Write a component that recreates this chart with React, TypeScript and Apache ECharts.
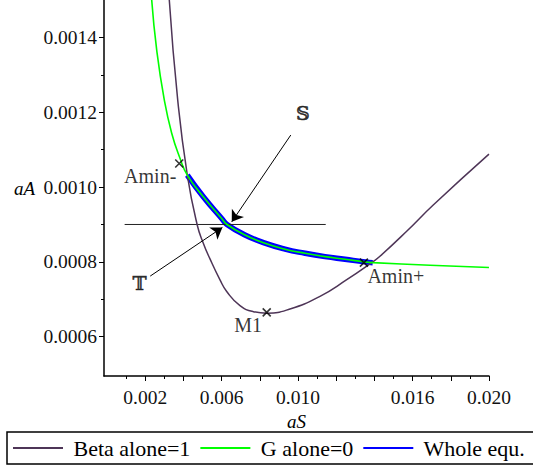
import React, { useEffect, useRef } from 'react';
import * as echarts from 'echarts';

// Beta alone = 1 curve (aS, aA)
const betaCurve: [number, number][] = [
  [0.003259, 0.0015],
  [0.003699, 0.001233],
  [0.004202, 0.001032],
  [0.004725, 0.000898],
  [0.00504, 0.00085],
  [0.00539, 0.000808],
  [0.005914, 0.000752],
  [0.006265, 0.000721],
  [0.006961, 0.000683],
  [0.007658, 0.000667],
  [0.008391, 0.000663],
  [0.009579, 0.000674],
  [0.01115, 0.000708],
  [0.012512, 0.000751],
  [0.01391, 0.0008],
  [0.01429, 0.000815],
  [0.01569, 0.000882],
  [0.01708, 0.000952],
  [0.019998, 0.001088],
];

// G alone = 0 curve
const gCurve: [number, number][] = [
  [0.002338, 0.0015],
  [0.0026, 0.001366],
  [0.002997, 0.001233],
  [0.003385, 0.001144],
  [0.003819, 0.001077],
  [0.004202, 0.001032],
  [0.005039, 0.000974],
  [0.006003, 0.000916],
  [0.006281, 0.0009],
  [0.007223, 0.000872],
  [0.00827, 0.00085],
  [0.009317, 0.000834],
  [0.010365, 0.000823],
  [0.011412, 0.000814],
  [0.012459, 0.000807],
  [0.013506, 0.0008],
  [0.01391, 0.000798],
  [0.01691, 0.000791],
  [0.019998, 0.000785],
];

// Whole equation curve
const wholeCurve: [number, number][] = [
  [0.004202, 0.001032],
  [0.005039, 0.000974],
  [0.006003, 0.000916],
  [0.006281, 0.0009],
  [0.007223, 0.000872],
  [0.00827, 0.00085],
  [0.009317, 0.000834],
  [0.010365, 0.000823],
  [0.011412, 0.000814],
  [0.012459, 0.000807],
  [0.013506, 0.0008],
  [0.01391, 0.000798],
];

// Cross markers
const markerPoints: [number, number][] = [
  [0.00378, 0.001063],
  [0.01345, 0.000798],
  [0.00836, 0.000665],
];

// Text annotations [aS, aA, text]
const annotations: [number, number, string][] = [
  [0.00226, 0.001029, 'Amin-'],
  [0.01512, 0.000762, 'Amin+'],
  [0.00739, 0.000631, 'M1'],
  [0.01025, 0.001197, '𝕊'],
  [0.0017, 0.000744, '𝕋'],
];

// Horizontal reference line
const refLine: [number, number][] = [
  [0.00092, 0.0009],
  [0.01145, 0.0009],
];

// Arrows [from, to]
const arrows: [number, number][][] = [
  [[0.00962, 0.001139], [0.00653, 0.000907]],
  [[0.00226, 0.000762], [0.00604, 0.000892]],
];

const xMajorTicks = [0.002, 0.004, 0.006, 0.008, 0.01, 0.012, 0.014, 0.016, 0.018, 0.02];
const xMinorTicks = [0.001, 0.003, 0.005, 0.007, 0.009, 0.011, 0.013, 0.015, 0.017, 0.019];
const xLabels = [0.002, 0.006, 0.01, 0.016, 0.02];
const yMajorTicks = [0.0006, 0.0008, 0.001, 0.0012, 0.0014];
const yMinorTicks = [0.0007, 0.0009, 0.0011, 0.0013];

const seriesNames = ['Beta alone=1', 'G alone=0', 'Whole equ.'];
const FONT = 'Liberation Serif';

export default function App() {
  const ref = useRef<HTMLDivElement>(null);
  useEffect(() => {
    if (!ref.current) return;
    const chart = echarts.init(ref.current, undefined, { renderer: 'svg' });
    const xMin = -0.00016;
    const xMax = 0.02;
    const yMin = 0.000495;
    const yMax = 0.0015;
    const axisCommon = {
      type: 'value' as const,
      splitLine: { show: false },
    };
    chart.setOption({
      animation: false,
      backgroundColor: '#fff',
      textStyle: { fontFamily: FONT, color: '#000' },
      grid: { left: 104, top: 0, width: 385, height: 376 },
      legend: {
        data: seriesNames,
        left: 7,
        top: 432,
        width: 620,
        icon: 'rect',
        itemWidth: 50,
        itemHeight: 2,
        itemGap: 10,
        padding: [5, 30, 5, 6],
        borderColor: '#000',
        borderWidth: 1.5,
        itemStyle: { borderWidth: 0 },
        formatter: (name: string) => ' ' + name,
        textStyle: { fontFamily: FONT, fontSize: 22, color: '#000' },
      },
      xAxis: [
        {
          ...axisCommon,
          min: xMin,
          max: xMax,
          position: 'bottom',
          name: 'aS',
          nameLocation: 'middle',
          nameGap: 24,
          nameTextStyle: { fontFamily: FONT, fontStyle: 'italic', fontSize: 19, color: '#000' },
          axisLine: { show: true, onZero: false, lineStyle: { color: '#000', width: 1.5 } },
          axisTick: { show: true, customValues: xMajorTicks, length: 5, lineStyle: { color: '#000', width: 1 } },
          axisLabel: {
            show: true,
            customValues: xLabels,
            margin: 11,
            formatter: (v: number) => v.toFixed(3),
            fontFamily: FONT,
            fontWeight: 'normal',
            fontSize: 19.5,
            color: '#111',
          },
        },
        {
          ...axisCommon,
          min: xMin,
          max: xMax,
          position: 'bottom',
          axisLine: { show: false, onZero: false },
          axisTick: { show: true, customValues: xMinorTicks, length: 3, lineStyle: { color: '#000', width: 1 } },
          axisLabel: { show: false },
        },
      ],
      yAxis: [
        {
          ...axisCommon,
          min: yMin,
          max: yMax,
          position: 'left',
          name: 'aA',
          nameLocation: 'middle',
          nameRotate: 0,
          nameGap: 69,
          nameTextStyle: { fontFamily: FONT, fontStyle: 'italic', fontSize: 19, color: '#000' },
          axisLine: { show: true, onZero: false, lineStyle: { color: '#000', width: 1.5 } },
          axisTick: { show: true, customValues: yMajorTicks, length: 5, lineStyle: { color: '#000', width: 1 } },
          axisLabel: {
            show: true,
            customValues: yMajorTicks,
            margin: 7,
            formatter: (v: number) => v.toFixed(4),
            fontFamily: FONT,
            fontWeight: 'normal',
            fontSize: 19.5,
            color: '#111',
          },
        },
        {
          ...axisCommon,
          min: yMin,
          max: yMax,
          position: 'left',
          axisLine: { show: false, onZero: false },
          axisTick: { show: true, customValues: yMinorTicks, length: 3, lineStyle: { color: '#000', width: 1 } },
          axisLabel: { show: false },
        },
      ],
      series: [
        {
          name: seriesNames[0],
          type: 'line',
          data: betaCurve,
          smooth: 0.5,
          symbol: 'none',
          z: 3,
          lineStyle: { color: '#4E3557', width: 1.5 },
          itemStyle: { color: '#4E3557' },
        },
        {
          name: seriesNames[1],
          type: 'line',
          data: gCurve,
          smooth: 0.5,
          symbol: 'none',
          z: 4,
          lineStyle: { color: '#00FF00', width: 1.6 },
          itemStyle: { color: '#00FF00' },
        },
        {
          name: seriesNames[2],
          type: 'line',
          data: wholeCurve,
          smooth: 0.5,
          symbol: 'none',
          z: 2,
          lineStyle: { color: '#0000FF', width: 5.5 },
          itemStyle: { color: '#0000FF' },
        },
        {
          name: 'refLine',
          type: 'line',
          data: refLine,
          symbol: 'none',
          z: 2,
          lineStyle: { color: '#222', width: 1 },
        },
        {
          name: 'arrows',
          type: 'lines',
          coordinateSystem: 'cartesian2d',
          data: arrows.map((c) => ({ coords: c })),
          symbol: ['none', 'arrow'],
          symbolSize: 11,
          z: 5,
          lineStyle: { color: '#000', width: 1, opacity: 1 },
        },
        {
          name: 'markers',
          type: 'scatter',
          data: markerPoints,
          symbol: 'path://M0,0L10,10M10,0L0,10',
          symbolSize: 8,
          z: 6,
          itemStyle: { color: 'rgba(0,0,0,0)', borderColor: '#000', borderWidth: 1.6 },
        },
        {
          name: 'annotations',
          type: 'scatter',
          data: annotations,
          symbolSize: 1,
          z: 6,
          itemStyle: { color: 'rgba(0,0,0,0)' },
          label: {
            show: true,
            position: 'inside',
            formatter: (p: any) => {
              const s = p.data[2] as string;
              return s === '𝕊' || s === '𝕋' ? '{ds|' + s + '}' : '{n|' + s + '}';
            },
            rich: {
              n: { fontFamily: FONT, fontSize: 20, color: '#000' },
              ds: {
                fontFamily: 'DejaVu Serif',
                fontWeight: 'normal',
                fontSize: 19,
                color: '#000',
                textBorderColor: '#000',
                textBorderWidth: 0.5,
              },
            },
            fontFamily: FONT,
            fontSize: 20,
            color: '#000',
          },
        },
      ],
    });
    return () => chart.dispose();
  }, []);
  return (
    <div
      ref={ref}
      style={{ position: 'absolute', left: 0, top: 0, width: 533, height: 470, background: '#fff' }}
    />
  );
}
